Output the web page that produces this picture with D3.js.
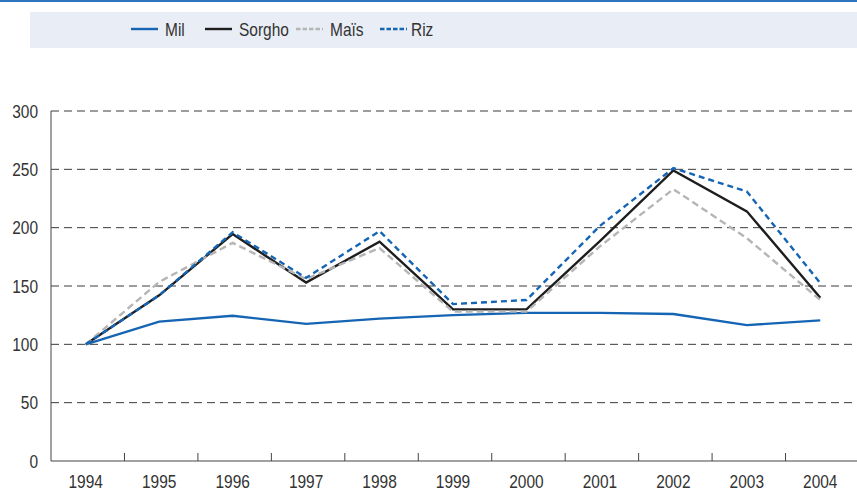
<!doctype html>
<html lang="fr">
<head>
<meta charset="utf-8">
<title>Indices de prix des céréales</title>
<script src="https://d3js.org/d3.v7.min.js"></script>
<style>
  body { margin: 0; background: #fff; }
  svg { display: block; font-family: "Liberation Sans", Arial, sans-serif; }
  .tick-label { font-size: 18px; fill: #333; }
  .legend-label { font-size: 18px; fill: #333; }
</style>
</head>
<body>
<script>
const years = ['1994','1995','1996','1997','1998','1999','2000','2001','2002','2003','2004'];
const yTicks = [0, 50, 100, 150, 200, 250, 300];

const mil    = [100, 119.5, 124.5, 117.5, 122, 125, 127, 127, 126, 116.5, 120.5];
const sorgho = [100, 142, 194.5, 153, 188, 130, 130, 188.5, 249, 214, 140];
const mais   = [100, 153.5, 187, 156, 182.5, 128, 128, 184, 233, 191, 138];
const riz    = [100, 142, 196, 157, 197, 134.5, 138, 201.5, 251, 231, 152.5];

const series = [
  { name: 'Mil',    values: mil,    color: '#1565b4', dash: null },
  { name: 'Sorgho', values: sorgho, color: '#1e1e1e', dash: null },
  { name: 'Maïs',   values: mais,   color: '#b5b5b5', dash: '7,4' },
  { name: 'Riz',    values: riz,    color: '#1565b4', dash: '6,4' }
];

const width = 857, height = 492;
const plot = { left: 51, right: 857, top: 111, bottom: 461 };
const squeeze = 0.86; // condensed look

const svg = d3.select('body').append('svg')
    .attr('width', width)
    .attr('height', height);

// top rule + legend band
svg.append('rect')
    .attr('x', 0).attr('y', 0)
    .attr('width', width).attr('height', 2)
    .attr('fill', '#2f74bf');

svg.append('rect')
    .attr('x', 30).attr('y', 12)
    .attr('width', width - 30).attr('height', 36)
    .attr('fill', '#e9edf5');

const x = d3.scaleBand()
    .domain(years)
    .range([plot.left - 2, plot.right]);

const y = d3.scaleLinear()
    .domain([0, 300])
    .range([plot.bottom, plot.top]);

const cx = d => x(d) + x.bandwidth() / 2;

function label(g, cls, anchor) {
  g.attr('class', cls)
   .attr('text-anchor', anchor);
}

// gridlines
svg.append('g')
    .selectAll('line')
    .data(yTicks.filter(t => t > 0))
    .join('line')
    .attr('x1', plot.left).attr('x2', plot.right)
    .attr('y1', d => y(d)).attr('y2', d => y(d))
    .attr('stroke', '#3a3a3a')
    .attr('stroke-width', 1)
    .attr('stroke-dasharray', '8,5');

// y axis
svg.append('line')
    .attr('x1', plot.left).attr('x2', plot.left)
    .attr('y1', plot.top).attr('y2', plot.bottom)
    .attr('stroke', '#444');

svg.append('g')
    .selectAll('g')
    .data(yTicks)
    .join('g')
    .attr('transform', d => `translate(38,${y(d) + 6.5}) scale(${squeeze},1)`)
    .append('text')
    .call(label, 'tick-label', 'end')
    .text(d => d);

// x axis
svg.append('line')
    .attr('x1', plot.left).attr('x2', plot.right)
    .attr('y1', plot.bottom).attr('y2', plot.bottom)
    .attr('stroke', '#444');

svg.append('g')
    .selectAll('line')
    .data(years.slice(1))
    .join('line')
    .attr('x1', d => x(d) + 2).attr('x2', d => x(d) + 2)
    .attr('y1', plot.bottom - 8).attr('y2', plot.bottom)
    .attr('stroke', '#444');

svg.append('g')
    .selectAll('g')
    .data(years)
    .join('g')
    .attr('transform', d => `translate(${cx(d)},488) scale(${squeeze},1)`)
    .append('text')
    .call(label, 'tick-label', 'middle')
    .text(d => d);

// lines
const line = d3.line()
    .x((d, i) => cx(years[i]))
    .y(d => y(d));

svg.append('g')
    .selectAll('path')
    .data(series)
    .join('path')
    .attr('d', d => line(d.values))
    .attr('fill', 'none')
    .attr('stroke', d => d.color)
    .attr('stroke-width', 2.4)
    .attr('stroke-linejoin', 'miter')
    .attr('stroke-dasharray', d => d.dash);

// legend
const legendX = [131, 205, 296, 380];
const lg = svg.append('g')
    .selectAll('g')
    .data(series)
    .join('g')
    .attr('transform', (d, i) => `translate(${legendX[i]},29)`);

lg.append('line')
    .attr('x1', 0).attr('x2', 27)
    .attr('stroke', d => d.color)
    .attr('stroke-width', 2.4)
    .attr('stroke-dasharray', d => d.dash ? '4.5,2' : null);

lg.append('g')
    .attr('transform', d => `translate(${d.name === 'Riz' ? 31 : 34},6.5) scale(${squeeze},1)`)
    .append('text')
    .call(label, 'legend-label', 'start')
    .text(d => d.name);
</script>
</body>
</html>
